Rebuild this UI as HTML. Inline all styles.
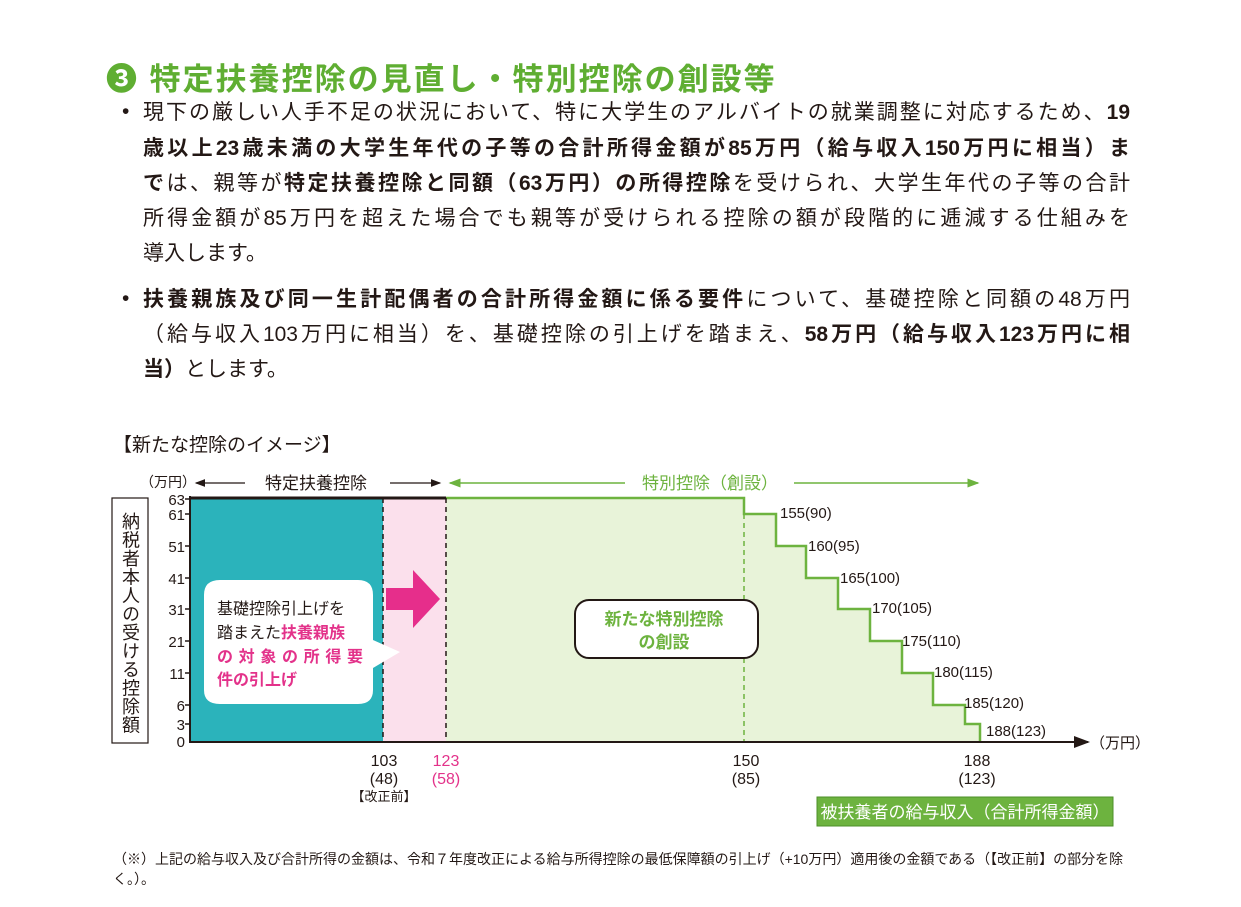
<!DOCTYPE html>
<html><head><meta charset="utf-8"><style>
body{margin:0;width:1241px;height:907px;background:#fff;position:relative;overflow:hidden;font-family:"Liberation Sans","Noto Sans CJK JP",sans-serif;color:#231815}
.a{position:absolute;white-space:nowrap}
.ln{position:absolute;left:143px;width:987px;font-size:21px;line-height:24px;white-space:nowrap;text-align:justify;text-align-last:justify}
.nl{text-align-last:left}
b{font-weight:bold}
</style></head><body>
<div class="a" style="left:106px;top:54px;font-size:31px;font-weight:bold;color:#5fae32;letter-spacing:2px">❸ 特定扶養控除の見直し・特別控除の創設等</div>
<div class="a" style="left:122px;top:100px;font-size:21px">•</div>
<div class="ln" style="top:101px">現下の厳しい人手不足の状況において、特に大学生のアルバイトの就業調整に対応するため、<b>19</b></div>
<div class="ln" style="top:137px"><b>歳以上23歳未満の大学生年代の子等の合計所得金額が85万円（給与収入150万円に相当）ま</b></div>
<div class="ln" style="top:172px"><b>で</b>は、親等が<b>特定扶養控除と同額（63万円）の所得控除</b>を受けられ、大学生年代の子等の合計</div>
<div class="ln" style="top:207px">所得金額が85万円を超えた場合でも親等が受けられる控除の額が段階的に逓減する仕組みを</div>
<div class="ln nl" style="top:242px">導入します。</div>
<div class="a" style="left:122px;top:287px;font-size:21px">•</div>
<div class="ln" style="top:288px"><b>扶養親族及び同一生計配偶者の合計所得金額に係る要件</b>について、基礎控除と同額の48万円</div>
<div class="ln" style="top:323px">（給与収入103万円に相当）を、基礎控除の引上げを踏まえ、<b>58万円（給与収入123万円に相</b></div>
<div class="ln nl" style="top:358px"><b>当）</b>とします。</div>

<div class="a" style="left:113px;top:430px;font-size:19px">【新たな控除のイメージ】</div>

<svg class="a" style="left:0;top:0" width="1241" height="907" font-family="Liberation Sans, Noto Sans CJK JP, sans-serif">
<defs>
<marker id="ak" markerWidth="8" markerHeight="6" refX="7" refY="3" orient="auto"><path d="M0,0L8,3L0,6z" fill="#231815"/></marker>
<marker id="ag" markerWidth="8" markerHeight="6" refX="7" refY="3" orient="auto"><path d="M0,0L8,3L0,6z" fill="#6db33f"/></marker>
</defs>
<rect x="190" y="498" width="193" height="244" fill="#2bb3bb"/>
<rect x="383" y="498" width="63" height="244" fill="#fbe0ec"/>
<path d="M446,498H744V514H776V546H806V578H838V609H870V641H902V673H933V705H965V724H980V742H446Z" fill="#e8f3d9"/>
<path d="M446,498H744V514H776V546H806V578H838V609H870V641H902V673H933V705H965V724H980V742" fill="none" stroke="#6db33f" stroke-width="2.5"/>
<line x1="190" y1="498" x2="446" y2="498" stroke="#231815" stroke-width="3"/>
<line x1="383" y1="498" x2="383" y2="742" stroke="#231815" stroke-width="1.5" stroke-dasharray="5,4"/>
<line x1="446" y1="498" x2="446" y2="742" stroke="#231815" stroke-width="1.5" stroke-dasharray="5,4"/>
<line x1="744" y1="514" x2="744" y2="742" stroke="#6db33f" stroke-width="1.5" stroke-dasharray="5,4"/>
<line x1="190" y1="496" x2="190" y2="743" stroke="#231815" stroke-width="2"/>
<line x1="189" y1="742" x2="1088" y2="742" stroke="#231815" stroke-width="2" marker-end="url(#ak)"/>
<g stroke="#231815" stroke-width="1.5">
<line x1="185" y1="499" x2="190" y2="499"/><line x1="185" y1="514" x2="190" y2="514"/><line x1="185" y1="546" x2="190" y2="546"/><line x1="185" y1="578" x2="190" y2="578"/><line x1="185" y1="609" x2="190" y2="609"/><line x1="185" y1="641" x2="190" y2="641"/><line x1="185" y1="673" x2="190" y2="673"/><line x1="185" y1="705" x2="190" y2="705"/><line x1="185" y1="724" x2="190" y2="724"/>
</g>
<g font-size="15" text-anchor="end" fill="#231815">
<text x="185" y="505">63</text><text x="185" y="520">61</text><text x="185" y="552">51</text><text x="185" y="584">41</text><text x="185" y="615">31</text><text x="185" y="647">21</text><text x="185" y="679">11</text><text x="185" y="711">6</text><text x="185" y="730">3</text><text x="185" y="747">0</text>
</g>
<text x="140" y="487" font-size="14" fill="#231815">（万円）</text>
<rect x="112" y="498" width="36" height="245" fill="#fff" stroke="#231815" stroke-width="1.2"/>
<text x="130" y="512" font-size="18" fill="#231815" style="writing-mode:vertical-rl" letter-spacing="0.5">納税者本人の受ける控除額</text>
<line x1="245" y1="483" x2="196" y2="483" stroke="#231815" stroke-width="1.3" marker-end="url(#ak)"/>
<line x1="390" y1="483" x2="440" y2="483" stroke="#231815" stroke-width="1.3" marker-end="url(#ak)"/>
<text x="316" y="489" font-size="17" text-anchor="middle" fill="#231815">特定扶養控除</text>
<line x1="625" y1="483" x2="450" y2="483" stroke="#6db33f" stroke-width="1.5" marker-end="url(#ag)"/>
<line x1="794" y1="483" x2="978" y2="483" stroke="#6db33f" stroke-width="1.5" marker-end="url(#ag)"/>
<text x="710" y="489" font-size="17" text-anchor="middle" fill="#6db33f">特別控除（創設）</text>
<g font-size="15" fill="#231815">
<text x="780" y="518">155(90)</text><text x="808" y="551">160(95)</text><text x="840" y="583">165(100)</text><text x="872" y="613">170(105)</text><text x="902" y="646">175(110)</text><text x="934" y="677">180(115)</text><text x="964" y="708">185(120)</text><text x="986" y="736">188(123)</text>
</g>
<text x="1090" y="748" font-size="15" fill="#231815">（万円）</text>
<g font-size="16" text-anchor="middle" fill="#231815">
<text x="384" y="766">103</text><text x="384" y="784">(48)</text><text x="384" y="801" font-size="13">【改正前】</text>
<text x="746" y="766">150</text><text x="746" y="784">(85)</text>
<text x="977" y="766">188</text><text x="977" y="784">(123)</text>
</g>
<g font-size="16" text-anchor="middle" fill="#e3328a"><text x="446" y="766">123</text><text x="446" y="784">(58)</text></g>
<path d="M386,588H413V570L440,599L413,628V610H386Z" fill="#e62e8b"/>
<path d="M220,580H358Q373,580 373,595V640L400,652L373,668V690Q373,704 358,704H220Q204,704 204,690V595Q204,580 220,580Z" fill="#fff"/>
<g font-size="16" fill="#231815">
<text x="217" y="614">基礎控除引上げを</text>
<text x="217" y="638">踏まえた<tspan fill="#e3328a" font-weight="bold">扶養親族</tspan></text>
<text x="217" y="662" fill="#e3328a" font-weight="bold" textLength="146">の対象の所得要</text>
<text x="217" y="685" fill="#e3328a" font-weight="bold">件の引上げ</text>
</g>
<rect x="575" y="600" width="183" height="58" rx="14" fill="#fff" stroke="#231815" stroke-width="2"/>
<text x="664" y="625" font-size="17" font-weight="bold" text-anchor="middle" fill="#6db33f">新たな特別控除</text>
<text x="664" y="648" font-size="17" font-weight="bold" text-anchor="middle" fill="#6db33f">の創設</text>
<rect x="817" y="797" width="296" height="29" fill="#6db33f" stroke="#4d8f2a" stroke-width="1"/>
<text x="965" y="818" font-size="17" text-anchor="middle" fill="#fff">被扶養者の給与収入（合計所得金額）</text>
</svg>
<div class="a" style="left:113px;top:849px;font-size:14px;line-height:20px;white-space:normal;width:1012px">（※）上記の給与収入及び合計所得の金額は、令和７年度改正による給与所得控除の最低保障額の引上げ（+10万円）適用後の金額である（【改正前】の部分を除く。）。</div>
</body></html>
